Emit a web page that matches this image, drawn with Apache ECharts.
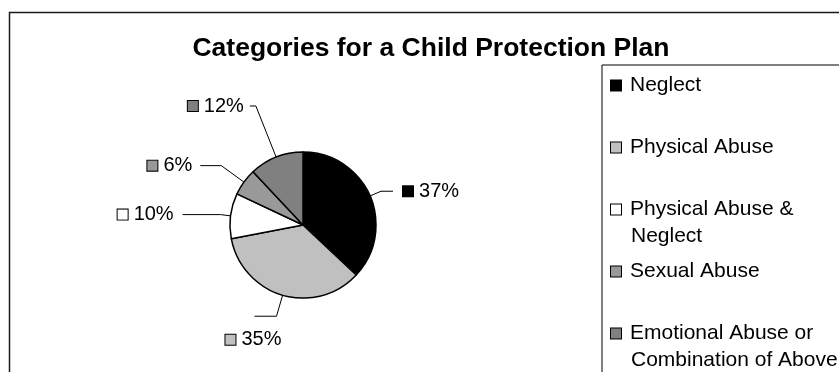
<!DOCTYPE html>
<html>
<head>
<meta charset="utf-8">
<script src="https://cdn.jsdelivr.net/npm/echarts@6/dist/echarts.min.js"></script>
<style>
  html, body { margin: 0; padding: 0; background: #fff; }
  #main { width: 839px; height: 372px; }
</style>
</head>
<body>
<div id="main"></div>
<script>
// data
let categories = ['Neglect', 'Physical Abuse', 'Physical Abuse & Neglect', 'Sexual Abuse', 'Emotional Abuse or Combination of Above'];
let legendLines = [['Neglect'], ['Physical Abuse'], ['Physical Abuse &', 'Neglect'], ['Sexual Abuse'], ['Emotional Abuse or', 'Combination of Above']];
let percents = [37, 35, 10, 6, 12];
let colors = ['#000000', '#c0c0c0', '#ffffff', '#999999', '#808080'];

// leader line lengths per slice (length, length2, gap to text)
let lineLen = [[12, 12, 10], [22, 22, 5], [10, 38, 9], [28, 21, 8], [55, 6, 6]];
// label nudge for the bottom label (sits under its line end)
let nudge = {1: [33, 20]};

let font = "'Liberation Sans', Arial, sans-serif";

let boxRich = {};
colors.forEach(function (c, i) {
	boxRich['b' + i] = {
		width: 10, height: 10, backgroundColor: c,
		borderColor: '#000', borderWidth: 1, lineHeight: 27
	};
});

let pieData = categories.map(function (name, i) {
	return {
		name: name,
		value: percents[i],
		itemStyle: { color: colors[i] },
		label: { distanceToLabelLine: lineLen[i][2] },
		labelLine: { length: lineLen[i][0], length2: lineLen[i][1] }
	};
});

let chart = echarts.init(document.getElementById('main'));

let option = {
	backgroundColor: '#fff',
	animation: false,
	textStyle: { fontFamily: font },
	title: {
		text: 'Categories for a Child Protection Plan',
		left: 431,
		textAlign: 'center',
		top: 35,
		padding: 0,
		textStyle: { fontFamily: font, fontSize: 26.5, fontWeight: 'bold', color: '#000' }
	},
	legend: {
		orient: 'vertical',
		left: 602,
		top: 65,
		width: 400,
		height: 400,
		padding: [7, 6, 4, 3],
		itemGap: 8,
		itemWidth: 0,
		itemHeight: 0,
		selectedMode: false,
		borderColor: '#000',
		borderWidth: 1,
		data: categories,
		formatter: function (name) {
			let i = categories.indexOf(name);
			let ln = legendLines[i];
			let second = ln.length > 1 ? ln[1] : ' ';
			return '{b' + i + '|}{t|' + ln[0] + '}\n{i| }{u|' + second + '}';
		},
		textStyle: {
			fontFamily: font,
			fontSize: 21,
			lineHeight: 27,
			color: '#000',
			rich: Object.assign({
				t: { fontSize: 21, lineHeight: 27, padding: [0, 0, 0, 9] },
				i: { width: 11, lineHeight: 27 },
				u: { fontSize: 21, lineHeight: 27, padding: [0, 0, 0, 9] }
			}, boxRich)
		}
	},
	graphic: [{
		type: 'rect',
		silent: true,
		z: -1,
		shape: { x: 9.5, y: 12.5, width: 900, height: 420 },
		style: { fill: 'none', stroke: '#1a1a1a', lineWidth: 1.5 }
	}],
	series: [{
		type: 'pie',
		center: [303, 225],
		radius: 73,
		startAngle: 90,
		clockwise: true,
		avoidLabelOverlap: false,
		data: pieData,
		itemStyle: { borderColor: '#000', borderWidth: 1.5 },
		emphasis: { disabled: true },
		label: {
			show: true,
			position: 'outside',
			color: '#000',
			fontFamily: font,
			fontSize: 20,
			formatter: function (p) {
				return '{b' + p.dataIndex + '|}{t|' + p.value + '%}';
			},
			rich: Object.assign({
				t: { fontSize: 20, padding: [0, 0, 0, 6] }
			}, boxRich)
		},
		labelLine: {
			show: true,
			lineStyle: { color: '#000', width: 1 }
		},
		labelLayout: function (p) {
			let n = nudge[p.dataIndex];
			if (!n) return {};
			return {
				x: p.labelRect.x + n[0],
				y: p.labelRect.y + n[1],
				align: 'left',
				verticalAlign: 'top',
				labelLinePoints: p.labelLinePoints
			};
		}
	}]
};

chart.setOption(option);
</script>
</body>
</html>
